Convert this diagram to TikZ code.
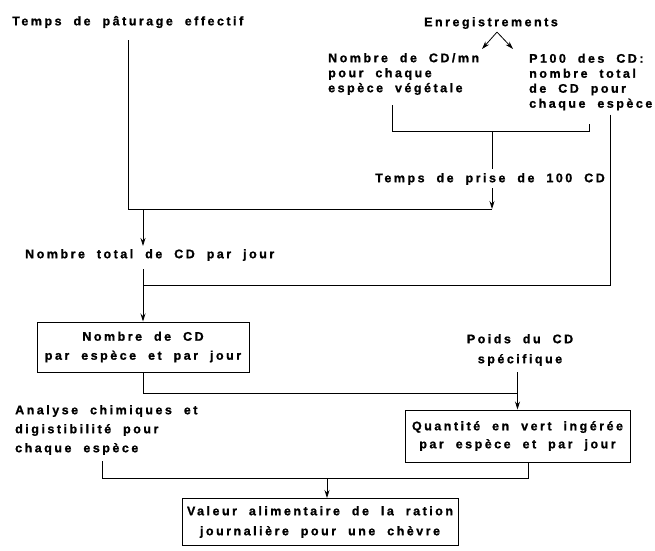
\documentclass[tikz,border=0pt]{standalone}
\usepackage{fontspec}
\newfontfamily\notefont{Liberation Sans Bold}[LetterSpace=20,WordSpace=2,FakeBold=1]
\usepackage{tikz}
\usetikzlibrary{arrows.meta}

\begin{document}
\begin{tikzpicture}[x=1pt,y=-1pt]
      \tikzset{lbl/.style={inner sep=0pt,
          align=left,
          font=\notefont\fontsize{12.5}{15}\selectfont},
        lbl wide/.style={lbl,
          font=\notefont\fontsize{12.5}{#1}\selectfont},
        box/.style={draw, line width=1pt,
          align=center,
          font=\notefont\fontsize{12.5}{#1}\selectfont},
        >={Stealth[length=8pt,width=5pt]}
      }
      \useasboundingbox (0,0) rectangle (655,550);
      \node [lbl,anchor=west] (paturage) at (12,22) {Temps de pâturage effectif};
      \node [lbl] (enreg) at (491,23) {Enregistrements};
      \node [lbl,anchor=west] (cdmn) at (328,74) {Nombre de CD/mn\\pour chaque\\espèce végétale};
      \node [lbl,anchor=west] (p100) at (529,82) {P100 des CD:\\nombre total\\de CD pour\\chaque espèce};
      \node [lbl] (tprise) at (490,179) {Temps de prise de 100 CD};
      \node [lbl,anchor=west] (nbtotal) at (25,255) {Nombre total de CD par jour};
      \node [box=19,minimum width=212pt,minimum height=50pt] (nbcd) at (143,347) {Nombre de CD\\par espèce et par jour};
      \node [lbl wide=20,align=center] (poids) at (520,350) {Poids du CD\\spécifique};
      \node [lbl wide=19,anchor=west] (analyse) at (15,430) {Analyse chimiques et\\digistibilité pour\\chaque espèce};
      \node [box=18,minimum width=225pt,minimum height=52pt] (qte) at (517.5,436) {Quantité en vert ingérée\\par espèce et par jour};
      \node [box=20,minimum width=276pt,minimum height=47pt] (valeur) at (320,522) {Valeur alimentaire de la ration\\journalière pour une chèvre};

      \coordinate (apex) at ([xshift=6pt,yshift=-3pt]enreg.south);
      \coordinate (tipl) at (482,49);
      \coordinate (tipr) at (513,49);
      \coordinate (jtop) at (128,209);
      \coordinate (jbl) at (392,131);
      \coordinate (jbr) at (589,131);
      \coordinate (jbm) at (492,131);
      \coordinate (jright) at (610,285);
      \coordinate (jmid) at (143,285);
      \coordinate (jq) at (517.5,393);
      \coordinate (jv) at (327,478);

      \draw [thick,->] (apex) -- (tipl);
      \draw [thick,->] (apex) -- (tipr);
      \draw [thick] ([yshift=-12pt]paturage.south -| jtop) -- (jtop) -- (jtop -| jbm);
      \draw [thick] ([yshift=-10pt]cdmn.south -| jbl) -- (jbl) -- (jbr) -- ([yshift=-13pt]p100.south -| jbr);
      \draw [thick] (jbm) -- ([yshift=4pt]tprise.north -| jbm);
      \draw [thick,->] ([yshift=-3pt]tprise.south -| jbm) -- (jtop -| jbm);
      \draw [thick,->] (jtop -| jmid) -- ([yshift=3pt]nbtotal.north -| jmid);
      \draw [thick] ([yshift=-4pt]p100.south -| jright) -- (jright) -- (jmid);
      \draw [thick,->] ([yshift=-8pt]nbtotal.south -| jmid) -- (nbcd.north -| jmid);
      \draw [thick] (nbcd.south) |- (jq);
      \draw [thick,->] ([yshift=-6pt]poids.south -| jq) -- (qte.north);
      \draw [thick] ([xshift=-4pt,yshift=-6pt]analyse.south) |- (jv) -| ([xshift=11pt]qte.south);
      \draw [thick,->] (jv) -- (valeur.north -| jv);
    \end{tikzpicture}
\end{document}
